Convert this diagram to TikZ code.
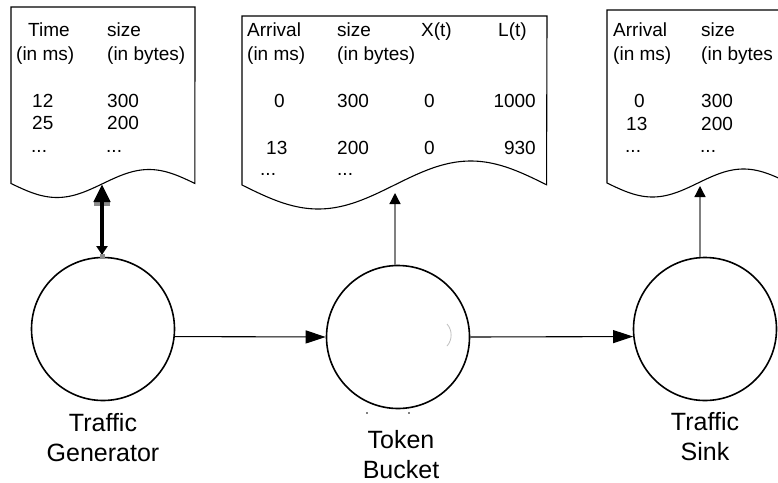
\documentclass[tikz,border=0pt]{standalone}
\usepackage{fontspec}
\setmainfont{Liberation Sans}
\usetikzlibrary{arrows.meta}
\begin{document}
\begin{tikzpicture}[x=1pt,y=-1pt,
  cell/.style={anchor=base west, inner sep=0pt, font=\fontsize{19}{23}\selectfont},
  cellr/.style={anchor=base east, inner sep=0pt, font=\fontsize{19}{23}\selectfont},
  lbl/.style={anchor=base, inner sep=0pt, align=center, font=\fontsize{25}{30}\selectfont},
  proc/.style={circle, draw, line width=1.6pt, minimum size=143pt, inner sep=0pt},
  doc/.style={draw, line width=1.1pt, line join=miter},
  flow/.style={line width=1.1pt, -{Triangle[length=20pt,width=13pt]}},
  feed/.style={draw=black!50, line width=1.3pt, -{Triangle[length=11pt,width=11pt,color=black]}},
]
\clip (0,0) rectangle (778,482);
\fill[white] (0,0) rectangle (778,482);

% documents
\draw[doc] (11,7) -- (11,183.5) -- plot[domain=0:1, samples=80] ({11+184*\x},{183.5+14*sin(360*\x)}) -- (195,7) -- cycle;
\draw[doc] (242,16) -- (242,185) -- plot[domain=0:1, samples=100] ({242+305*\x},{185+24*sin(360*\x)}) -- (547,16) -- cycle;
\draw[doc] (607,10) -- (607,183) -- plot[domain=0:1, samples=80] ({607+182*\x},{183+14*sin(360*\x)}) -- (789,10) -- cycle;

% table 1
\node[cell] (t1a) at (28,36) {Time};
\node[cell] (t1b) at (16,60) {(in ms)};
\node[cell] (t1c) at (32,107) {12};
\node[cell] (t1d) at (32,129) {25};
\node[cell] (t1e) at (31,152) {...};
\node[cell] (t1f) at (107,36) {size};
\node[cell] (t1g) at (107,60) {(in bytes)};
\node[cell] (t1h) at (107,107) {300};
\node[cell] (t1i) at (107,129) {200};
\node[cell] (t1j) at (106,152) {...};

% table 2
\node[cell] (t2a) at (247,36) {Arrival};
\node[cell] (t2b) at (247,60) {(in ms)};
\node[cell] (t2c) at (274,107) {0};
\node[cell] (t2d) at (266,154) {13};
\node[cell] (t2e) at (260,175) {...};
\node[cell] (t2f) at (337,36) {size};
\node[cell] (t2g) at (337,60) {(in bytes)};
\node[cell] (t2h) at (337,107) {300};
\node[cell] (t2i) at (337,154) {200};
\node[cell] (t2j) at (337,175) {...};
\node[cell] (t2k) at (421,36) {X(t)};
\node[cell] (t2l) at (424,107) {0};
\node[cell] (t2m) at (424,154) {0};
\node[cell] (t2n) at (498,36) {L(t)};
\node[cellr] (t2o) at (536,107) {1000};
\node[cellr] (t2p) at (536,154) {930};

% table 3
\node[cell] (t3a) at (613,36) {Arrival};
\node[cell] (t3b) at (613,60) {(in ms)};
\node[cell] (t3c) at (634,107) {0};
\node[cell] (t3d) at (626,130) {13};
\node[cell] (t3e) at (625,152) {...};
\node[cell] (t3f) at (701,36) {size};
\node[cell] (t3g) at (701,60) {(in bytes};
\node[cell] (t3h) at (701,107) {300};
\node[cell] (t3i) at (701,130) {200};
\node[cell] (t3j) at (700,152) {...};

% processes
\node[proc] (gen) at (103,329) {};
\node[proc] (tb) at (398,337) {};
\node[proc] (sink) at (705,329) {};

% labels (base anchor = baseline of last line)
\node[lbl] (genl) at (103,461) {Traffic\\Generator};
\node[lbl] (tbl) at (401,478) {Token\\Bucket};
\node[lbl] (sinkl) at (705,460) {Traffic\\Sink};

% artifacts
\fill (367,413) circle (0.9);
\fill (409,413) circle (0.9);
\draw[black!25, line width=0.8pt] (447,324) .. controls (452.5,330) and (452.5,340) .. (447,346);

% flows
\draw[flow] (gen.-6.4) -- (tb.west);
\draw[flow] (tb.east) -- (sink.186.4);

% feeds to documents
\coordinate (d1b) at (102,184);
\coordinate (d2b) at (395,193);
\coordinate (d3b) at (700,186);
\coordinate (g1) at (102,255);
\fill[black!45] (94,202) rectangle (110,205.5);
\draw[line width=4.5pt, {Triangle[length=18pt,width=16pt]}-{Triangle[length=9pt,width=11pt]}] (d1b) -- (g1);
\fill[black!45] (99.5,254) rectangle (104.5,259);
\draw[feed] (d2b |- tb.north) -- (d2b);
\draw[feed] (d3b |- sink.north) -- (d3b);
\end{tikzpicture}
\end{document}
